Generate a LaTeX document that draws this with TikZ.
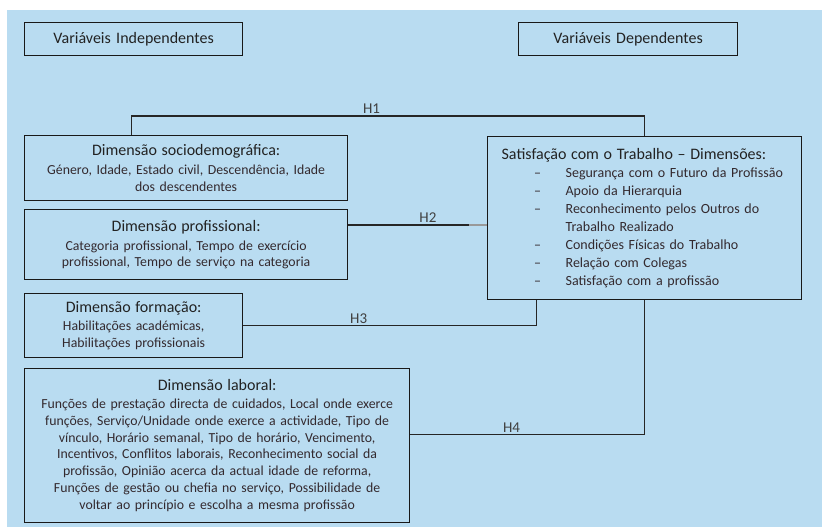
\documentclass[tikz,border=0pt]{standalone}
\usepackage{fontspec}
\setmainfont{Carlito}
\usetikzlibrary{calc}
\definecolor{bgblue}{HTML}{B9DCF1}
\definecolor{titlegray}{HTML}{222222}
\definecolor{subgray}{HTML}{33292E}
\def\titlefont{\fontsize{16}{19}\selectfont\color{titlegray}}
\def\subfont{\fontsize{13.8}{16.8}\selectfont}
\def\sitem{\hspace*{32pt}\makebox[8pt][c]{–}\hspace*{24pt}}
\tikzset{
	varbox/.style={draw=black!90, line width=1.3pt, inner sep=0pt, anchor=north west, align=center, text=subgray, font=\subfont},
	headbox/.style={varbox, text=titlegray, font=\fontsize{16}{19}\selectfont},
	hline/.style={draw=black!85, line width=1.1pt},
	hlabel/.style={above, inner sep=2pt, text=black!75, font=\fontsize{15}{17}\selectfont}
}

\begin{document}
\begin{tikzpicture}[x=1pt, y=-1pt]
			%%%%% START %%%%%
			
			\useasboundingbox (0, 0) rectangle (822, 527);
			\fill[bgblue] (7, 10) rectangle (822, 527);
			
			\node[headbox, text width=218pt, minimum height=33pt] (indep) at (24, 22) {Variáveis Independentes};
			\node[headbox, text width=219pt, minimum height=33pt] (dep) at (518, 22) {Variáveis Dependentes};
			
			\node[varbox, text width=323pt, minimum height=65pt] (socio) at (24, 135) {{\titlefont Dimensão sociodemográfica:}\\[2pt]
				Género, Idade, Estado civil, Descendência, Idade\\ dos descendentes};
			\node[varbox, text width=323pt, minimum height=70pt] (prof) at (24, 209) {{\titlefont Dimensão profissional:}\\[2pt]
				Categoria profissional, Tempo de exercício\\ profissional, Tempo de serviço na categoria};
			\node[varbox, text width=218pt, minimum height=64pt] (form) at (24, 293) {{\titlefont Dimensão formação:}\\[1pt]
				Habilitações académicas,\\ Habilitações profissionais};
			\node[varbox, text width=385pt, minimum height=154pt] (labor) at (24, 368) {{\titlefont Dimensão laboral:}\\[1pt]
				Funções de prestação directa de cuidados, Local onde exerce\\
				funções, Serviço/Unidade onde exerce a actividade, Tipo de\\
				vínculo, Horário semanal, Tipo de horário, Vencimento,\\
				Incentivos, Conflitos laborais, Reconhecimento social da\\
				profissão, Opinião acerca da actual idade de reforma,\\
				Funções de gestão ou chefia no serviço, Possibilidade de\\
				voltar ao princípio e escolha a mesma profissão};
			
			\node[varbox, align=left, inner xsep=14pt, text width=286pt, minimum height=163pt, font=\fontsize{14}{18}\selectfont] (satisf) at (487, 136) {{\titlefont Satisfação com o Trabalho – Dimensões:}\\
				\sitem Segurança com o Futuro da Profissão\\
				\sitem Apoio da Hierarquia\\
				\sitem\makebox[222pt][s]{Reconhecimento pelos Outros do}\\
				\hspace*{64pt}Trabalho Realizado\\
				\sitem Condições Físicas do Trabalho\\
				\sitem Relação com Colegas\\
				\sitem Satisfação com a profissão};
			
			% H1
			\draw[hline] ($(socio.north west)!0.331!(socio.north east)$) -- ++(0, -19) -| (satisf.north) node[hlabel, pos=0.234] {H1};
			
			% H2
			\path ([yshift=-16pt]prof.north east) coordinate (h2a) (h2a -| satisf.west) coordinate (h2b);
			\draw[hline] (h2a) -- ([xshift=-18pt]h2b) node[hlabel, pos=0.66] {H2};
			\draw[hline, draw=black!40] ([xshift=-18pt]h2b) -- (h2b);
			
			% H3
			\draw[hline] (form.east) -| ($(satisf.south west)!0.156!(satisf.south east)$) node[hlabel, pos=0.197] {H3};
			
			% H4
			\draw[hline] ([yshift=11pt]labor.east) -| (satisf.south) node[hlabel, pos=0.216] {H4};
			
			%%%%% END %%%%%
		\end{tikzpicture}
\end{document}
